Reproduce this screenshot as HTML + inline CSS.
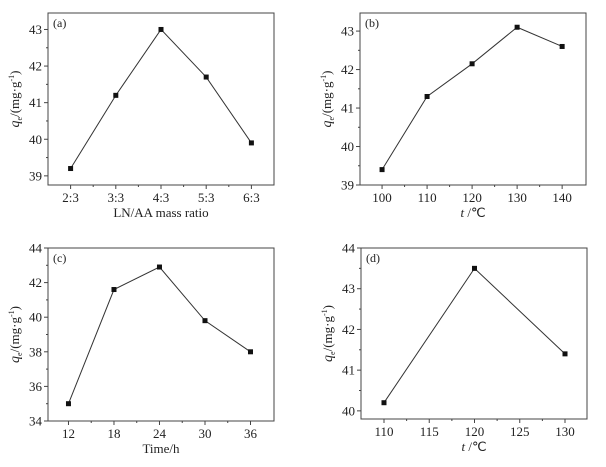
<!DOCTYPE html>
<html><head><meta charset="utf-8"><style>
body{margin:0;background:#fff}
svg{display:block}
text{font-family:"Liberation Serif",serif;fill:#222}
</style></head><body>
<svg id="c" width="606" height="467"></svg>
<script>
const aCats=["2:3","3:3","4:3","5:3","6:3"];
const aVals=[39.2,41.2,43.0,41.7,39.9];
const aYTicks=[39,40,41,42,43];
const bCats=[100,110,120,130,140];
const bVals=[39.4,41.3,42.15,43.1,42.6];
const bYTicks=[39,40,41,42,43];
const cCats=[12,18,24,30,36];
const cVals=[35,41.6,42.9,39.8,38];
const cYTicks=[34,36,38,40,42,44];
const dCats=[110,120,130];
const dVals=[40.2,43.5,41.4];
const dXTicks=[110,115,120,125,130];
const dYTicks=[40,41,42,43,44];

const NS="http://www.w3.org/2000/svg";
const svg=document.getElementById('c');
function mk(tag,attrs,parent,txt){const e=document.createElementNS(NS,tag);for(const k in attrs)e.setAttribute(k,attrs[k]);if(txt!==undefined)e.textContent=txt;(parent||svg).appendChild(e);return e;}

function panel(o){
  const g=mk('g',{});
  
  
  const X=v=>o.x0+(v-o.xd[0])/(o.xd[1]-o.xd[0])*(o.x1-o.x0);
  const Y=v=>o.y1-(v-o.yd[0])/(o.yd[1]-o.yd[0])*(o.y1-o.y0);
  const fr=mk('rect',{x:o.x0,y:o.y0,width:o.x1-o.x0,height:o.y1-o.y0,fill:'none',stroke:'#444','stroke-width':1},g);
  
  
  o.yt.forEach((v,i)=>{
    const y=Y(v);
    mk('line',{x1:o.x0-4,x2:o.x0,y1:y,y2:y,stroke:'#444'},g);
    const t=mk('text',{x:o.x0-6,y:y+4.5,'text-anchor':'end','font-size':13},g,v);
    
    
    if(i<o.yt.length-1){const ym=Y((v+o.yt[i+1])/2);mk('line',{x1:o.x0-2,x2:o.x0,y1:ym,y2:ym,stroke:'#444'},g);}
  });
  o.xt.forEach((v,i)=>{
    const xv=o.xi?i:v;const x=X(xv);
    mk('line',{x1:x,x2:x,y1:o.y1,y2:o.y1+4,stroke:'#444'},g);
    const t=mk('text',{x:x,y:o.y1+17,'text-anchor':'middle','font-size':13},g,v);
    
    
    if(i<o.xt.length-1){const nx=o.xi?i+1:o.xt[i+1];const xm=X((xv+nx)/2);mk('line',{x1:xm,x2:xm,y1:o.y1,y2:o.y1+2,stroke:'#444'},g);}
  });
  const pts=o.vals.map((v,i)=>[X(o.xi?i:o.cats[i]),Y(v)]);
  const pl=mk('polyline',{points:pts.map(p=>p.join(',')).join(' '),fill:'none',stroke:'#333','stroke-width':1},g);
  
  
  pts.forEach(p=>{const r=mk('rect',{x:p[0]-2.5,y:p[1]-2.5,width:5,height:5,fill:'#111'},g);
    
    });
  const lb=mk('text',{x:o.x0+5,y:o.y0+14,'font-size':12},g,'('+o.id+')');
  
  
  const cx=(o.x0+o.x1)/2;
  const xl=mk('text',{x:cx,y:o.y1+32,'text-anchor':'middle','font-size':13},g);
  
  
  if(o.xlab==='t'){mk('tspan',{'font-style':'italic'},xl,'t');mk('tspan',{},xl,' /℃');}else xl.textContent=o.xlab;
  const cy=(o.y0+o.y1)/2;
  const yl=mk('text',{x:0,y:0,'text-anchor':'middle','font-size':13,transform:`translate(${o.x0-29},${cy}) rotate(-90)`},g);
  
  
  mk('tspan',{'font-style':'italic','font-size':14},yl,'q');
  mk('tspan',{'font-size':8,dy:3},yl,'e');
  mk('tspan',{dy:-3},yl,'/(mg·g');
  mk('tspan',{'font-size':8,dy:-5},yl,'-1');
  mk('tspan',{dy:5},yl,')');
}
panel({id:'a',x0:48,x1:274,y0:13,y1:185,xd:[-0.5,4.5],yd:[38.75,43.45],xi:true,cats:aCats,xt:aCats,vals:aVals,yt:aYTicks,xlab:'LN/AA mass ratio'});
panel({id:'b',x0:360,x1:586,y0:13,y1:185,xd:[95.1,145.3],yd:[39,43.47],cats:bCats,xt:bCats,vals:bVals,yt:bYTicks,xlab:'t'});
panel({id:'c',x0:48,x1:274,y0:248,y1:421,xd:[9.3,39.1],yd:[34,44],cats:cCats,xt:cCats,vals:cVals,yt:cYTicks,xlab:'Time/h'});
panel({id:'d',x0:361,x1:587,y0:248,y1:419,xd:[107.46,132.43],yd:[39.8,44],cats:dCats,xt:dXTicks,vals:dVals,yt:dYTicks,xlab:'t'});
</script>
</body></html>
